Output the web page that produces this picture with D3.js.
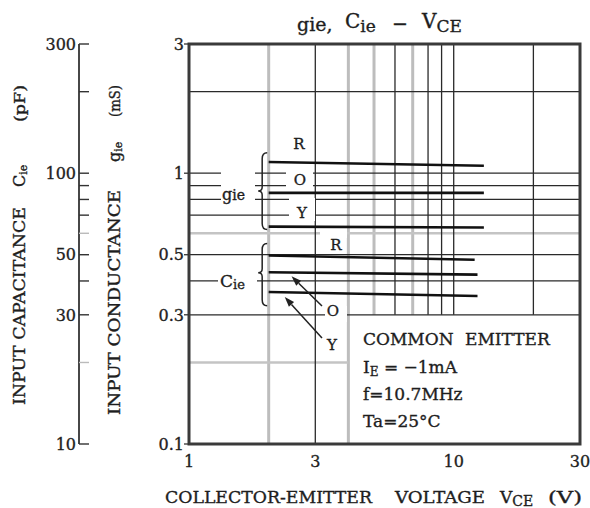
<!DOCTYPE html>
<html><head><meta charset="utf-8">
<script src="https://cdn.jsdelivr.net/npm/d3@7"></script>
<style>
body{margin:0;background:#fff}
svg{display:block}
text{font-family:"DejaVu Serif",serif;fill:#1e1e1e;stroke:#1e1e1e;stroke-width:0.35px}
</style>
</head><body>
<svg id="c" width="590" height="508"></svg>
<script>
// ---------- data ----------
const xTickValues = [1, 3, 10, 30];
const yTickValues = [3, 1, 0.5, 0.3, 0.1];
const cieTickValues = [300, 200, 100, 90, 80, 70, 60, 50, 40, 30, 20, 10];
const cieTickLabels = [300, 100, 50, 30, 10];
const cieTickGray = [60, 20];
const xGridBlack = [3, 6, 8, 9, 10, 20];
const xGridGray = [2, 4, 5, 7];
const yGridBlack = [2, 1, 0.9, 0.8, 0.7, 0.5, 0.4, 0.3];
const yGridGray = [0.6, 0.2];
const gieVce = [2, 13];
const gieR = [1.10, 1.066];
const gieO = [0.846, 0.846];
const gieY = [0.635, 0.630];
const cieRVce = [2, 12.0];
const cieVce = [2, 12.3];
const cieR = [49.7, 47.9];
const cieO = [43.1, 42.2];
const cieY = [36.4, 35.2];
const conditions = ["COMMON EMITTER", "IE = \u22121mA", "f=10.7MHz", "Ta=25\u00B0C"];

// ---------- scales ----------
const svg = d3.select("#c");
const x = d3.scaleLog().domain([1, 30]).range([189, 580]);
const y = d3.scaleLog().domain([0.1, 3]).range([444, 44]);
const yC = d3.scaleLog().domain([10, 300]).range([444, 44]);

const g = svg.append("g");

// ---------- grid ----------
const grid = g.append("g");
xGridGray.forEach(v => {
  grid.append("line").attr("x1", x(v)).attr("x2", x(v))
    .attr("y1", y(3)).attr("y2", v >= 5 ? y(0.3) : y(0.1))
    .attr("stroke", "#bdbdbd").attr("stroke-width", 3);
});
yGridGray.forEach(v => {
  grid.append("line").attr("x1", x(1)).attr("x2", v < 0.3 ? x(4) : x(30))
    .attr("y1", y(v)).attr("y2", y(v))
    .attr("stroke", "#c4c4c4").attr("stroke-width", 2.5);
});
xGridBlack.forEach(v => {
  grid.append("line").attr("x1", x(v)).attr("x2", x(v))
    .attr("y1", y(3)).attr("y2", v >= 5 ? y(0.3) : y(0.1))
    .attr("stroke", "#2a2a2a").attr("stroke-width", 1.3);
});
yGridBlack.forEach(v => {
  grid.append("line").attr("x1", x(1)).attr("x2", x(30))
    .attr("y1", y(v)).attr("y2", y(v))
    .attr("stroke", "#2a2a2a").attr("stroke-width", 1.3);
});

// knockouts behind labels (white gaps in grid)
const knock = [
  [221, 168, 34, 41],
  [218, 270, 39, 24],
  [286, 168, 27, 22],
  [289, 198, 26, 23],
  [320, 228, 27, 10],
  [325, 306, 22, 16]
];
g.append("g").selectAll("rect").data(knock).join("rect")
  .attr("x", d => d[0]).attr("y", d => d[1]).attr("width", d => d[2]).attr("height", d => d[3])
  .attr("fill", "#fff");

// ---------- data lines ----------
const series = [
  {vce: gieVce, val: gieR, sc: y},
  {vce: gieVce, val: gieO, sc: y},
  {vce: gieVce, val: gieY, sc: y},
  {vce: cieRVce, val: cieR, sc: yC},
  {vce: cieVce, val: cieO, sc: yC},
  {vce: cieVce, val: cieY, sc: yC}
];
series.forEach(s => {
  const pts = s.vce.map((v, i) => [v, s.val[i]]);
  g.append("path")
    .attr("d", d3.line().x(d => x(d[0])).y(d => s.sc(d[1]))(pts))
    .attr("fill", "none").attr("stroke", "#111").attr("stroke-width", 2.6);
});

// ---------- border ----------
g.append("rect").attr("x", x(1)).attr("y", y(3))
  .attr("width", x(30) - x(1)).attr("height", y(0.1) - y(3))
  .attr("fill", "none").attr("stroke", "#3a3a3a").attr("stroke-width", 3);

// ---------- axis labels ----------
const fs = 16;
xTickValues.forEach(v => {
  g.append("text").attr("x", x(v)).attr("y", 467).attr("text-anchor", "middle")
    .attr("font-size", fs).text(v);
});
yTickValues.forEach(v => {
  g.append("line").attr("x1", x(1) - 5).attr("x2", x(1)).attr("y1", y(v)).attr("y2", y(v))
    .attr("stroke", "#333").attr("stroke-width", 1.3);
  g.append("text").attr("x", 184).attr("y", y(v)).attr("dy", "0.36em").attr("text-anchor", "end")
    .attr("font-size", fs).text(v);
});

// left Cie axis
const la = g.append("g");
la.append("line").attr("x1", 79).attr("x2", 79).attr("y1", yC(300)).attr("y2", yC(10))
  .attr("stroke", "#333").attr("stroke-width", 1.8);
cieTickValues.forEach(v => {
  la.append("line").attr("x1", 79).attr("x2", 89).attr("y1", yC(v)).attr("y2", yC(v))
    .attr("stroke", cieTickGray.includes(v) ? "#bbb" : "#333").attr("stroke-width", 1.4);
});
cieTickLabels.forEach(v => {
  la.append("text").attr("x", 76).attr("y", yC(v)).attr("dy", "0.36em").attr("text-anchor", "end")
    .attr("font-size", fs).text(v);
});

// rotated titles
function rotLabel(bx, by, main, mainLen, sym, symOff, unit, unitOff, unitLen) {
  const r = g.append("g").attr("transform", `translate(${bx},${by}) rotate(-90)`);
  r.append("text").attr("x", 0).attr("y", 0).attr("font-size", 16)
    .attr("textLength", mainLen).attr("lengthAdjust", "spacingAndGlyphs").text(main);
  const t = r.append("text").attr("x", symOff).attr("y", 0).attr("font-size", 16);
  t.append("tspan").text(sym);
  t.append("tspan").attr("font-size", 11).attr("dy", 2).text("ie");
  r.append("text").attr("x", unitOff).attr("y", 0).attr("font-size", 14)
    .attr("textLength", unitLen).attr("lengthAdjust", "spacingAndGlyphs").text(unit);
}
rotLabel(25, 405, "INPUT CAPACITANCE", 198, "C", 218, "(pF)", 283, 37);
rotLabel(120, 415, "INPUT CONDUCTANCE", 225, "g", 253, "(mS)", 298, 32);

// x axis title
g.append("text").attr("x", 165).attr("y", 503).attr("font-size", 17)
  .attr("textLength", 207).attr("lengthAdjust", "spacingAndGlyphs").text("COLLECTOR-EMITTER");
g.append("text").attr("x", 395).attr("y", 503).attr("font-size", 17)
  .attr("textLength", 90).attr("lengthAdjust", "spacingAndGlyphs").text("VOLTAGE");
const vt = g.append("text").attr("x", 500).attr("y", 503).attr("font-size", 17);
vt.append("tspan").text("V");
vt.append("tspan").attr("font-size", 14).attr("dy", 3).text("CE");
g.append("text").attr("x", 548).attr("y", 503).attr("font-size", 17)
  .attr("textLength", 34).attr("lengthAdjust", "spacingAndGlyphs").text("(V)");

// chart title
g.append("text").attr("x", 297).attr("y", 31).attr("font-size", 19).text("gie,");
const t2 = g.append("text").attr("x", 345).attr("y", 28).attr("font-size", 20);
t2.append("tspan").text("C");
t2.append("tspan").attr("font-size", 17).attr("dy", 4).text("ie");
g.append("text").attr("x", 392).attr("y", 30).attr("font-size", 19).text("\u2212");
const t3 = g.append("text").attr("x", 422).attr("y", 28).attr("font-size", 20);
t3.append("tspan").text("V");
t3.append("tspan").attr("font-size", 17).attr("dy", 4).text("CE");

// ---------- annotations ----------
const ann = [
  {t: "R", cx: 299, cy: 143.5},
  {t: "O", cx: 300, cy: 180},
  {t: "Y", cx: 302, cy: 213},
  {t: "R", cx: 336, cy: 245},
  {t: "O", cx: 333, cy: 311},
  {t: "Y", cx: 332, cy: 345}
];
ann.forEach(a => {
  g.append("text").attr("x", a.cx).attr("y", a.cy).attr("dy", "0.36em").attr("text-anchor", "middle")
    .attr("font-size", 15).text(a.t);
});
const gl = g.append("text").attr("x", 222).attr("y", 200).attr("font-size", 16);
gl.append("tspan").text("g");
gl.append("tspan").attr("font-size", 14).text("ie");
const cl = g.append("text").attr("x", 220).attr("y", 287).attr("font-size", 17);
cl.append("tspan").text("C");
cl.append("tspan").attr("font-size", 13).attr("dy", 2).text("ie");

// braces
function brace(xb, t, b, m) {
  return `M${xb + 5},${t} Q${xb},${t} ${xb},${t + 6} L${xb},${m - 4} Q${xb},${m} ${xb - 4},${m} ` +
         `Q${xb},${m} ${xb},${m + 4} L${xb},${b - 6} Q${xb},${b} ${xb + 5},${b}`;
}
g.append("path").attr("d", brace(x(1.89), y(1.19), y(0.62), y(0.86)))
  .attr("fill", "none").attr("stroke", "#222").attr("stroke-width", 1.5);
g.append("path").attr("d", brace(x(1.89), yC(55), yC(32.4), yC(42.9)))
  .attr("fill", "none").attr("stroke", "#222").attr("stroke-width", 1.5);

// arrows
function arrow(x1, y1, x2, y2) {
  const ang = Math.atan2(y2 - y1, x2 - x1);
  const L = 10, W = 3.5;
  const bx = x2 - L * Math.cos(ang), by = y2 - L * Math.sin(ang);
  g.append("line").attr("x1", x1).attr("y1", y1).attr("x2", bx).attr("y2", by)
    .attr("stroke", "#222").attr("stroke-width", 1.5);
  const px = -Math.sin(ang) * W, py = Math.cos(ang) * W;
  g.append("path").attr("d", `M${x2},${y2} L${bx + px},${by + py} L${bx - px},${by - py} Z`)
    .attr("fill", "#222");
}
arrow(322, 306, x(2.44), yC(cieO[0]) + 4);
arrow(322, 338, x(2.3), yC(cieY[0]) + 5);

// conditions box text
const cond = g.append("g");
cond.append("text").attr("x", 363).attr("y", 345).attr("font-size", 17).attr("word-spacing", 6).text(conditions[0]);
const ie = cond.append("text").attr("x", 363).attr("y", 373).attr("font-size", 17);
ie.append("tspan").text("I");
ie.append("tspan").attr("font-size", 12).attr("dy", 3).text("E");
ie.append("tspan").attr("dy", -3).text(" = \u22121mA");
cond.append("text").attr("x", 363).attr("y", 400).attr("font-size", 17).text(conditions[2]);
cond.append("text").attr("x", 363).attr("y", 427).attr("font-size", 17).text(conditions[3]);
</script>
</body></html>
